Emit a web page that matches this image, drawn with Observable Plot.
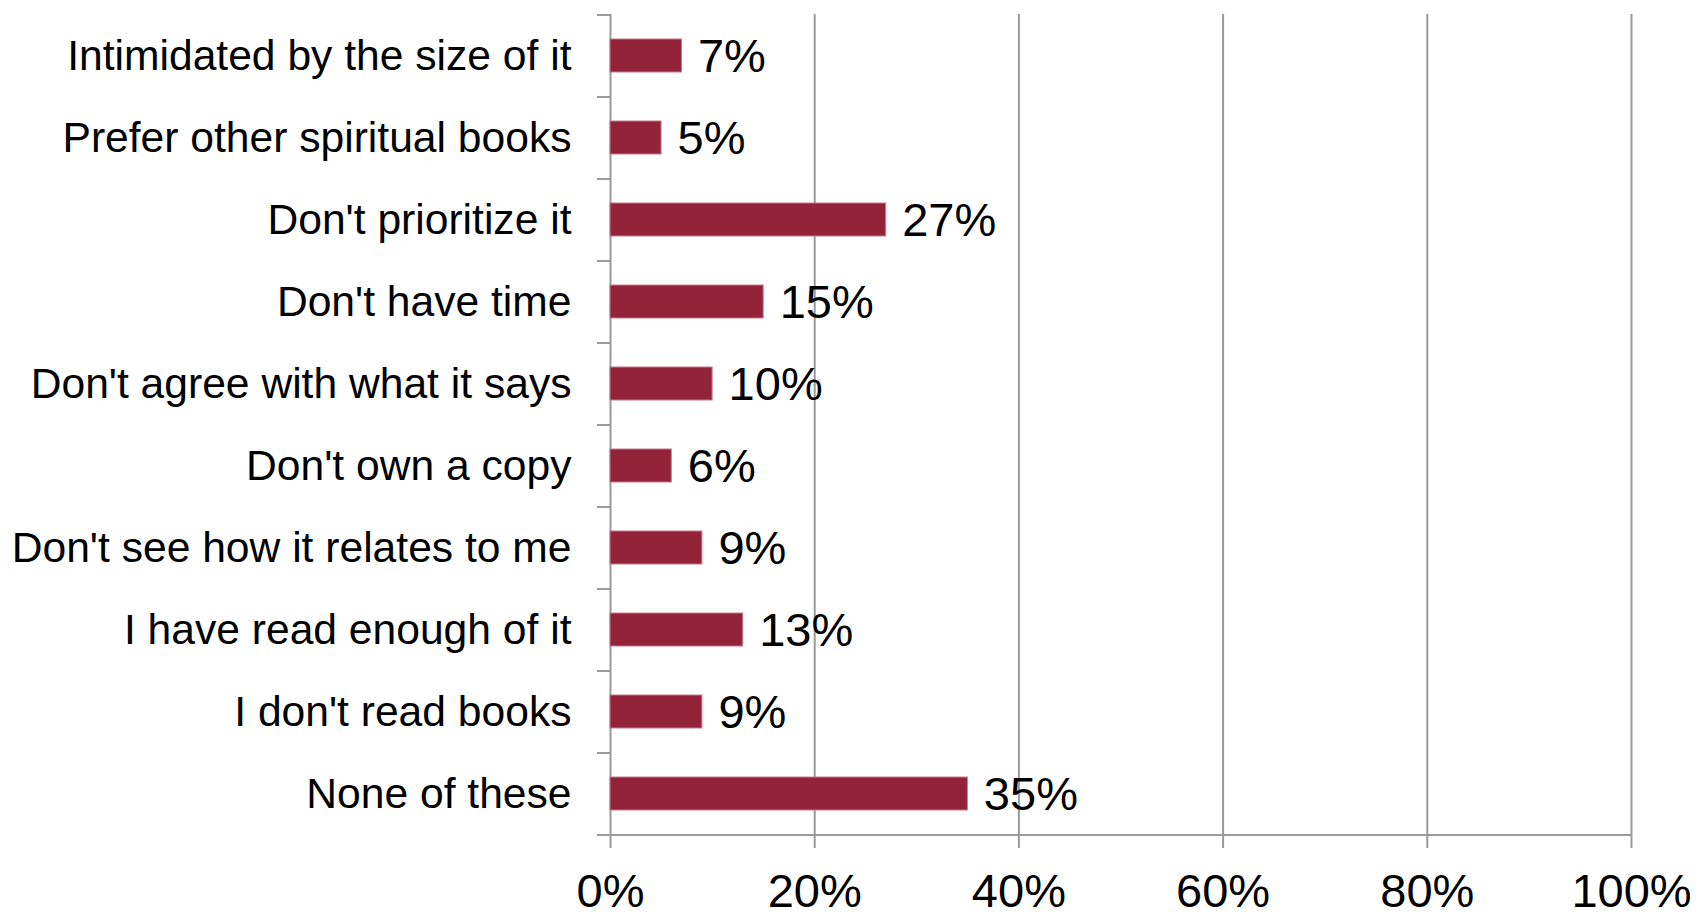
<!DOCTYPE html>
<html>
<head>
<meta charset="utf-8">
<script src="https://cdn.jsdelivr.net/npm/d3@7"></script>
<script src="https://cdn.jsdelivr.net/npm/@observablehq/plot@0.6"></script>
<style>
  html, body { margin: 0; padding: 0; background: #fff; }
  #chart svg { display: block; }
</style>
</head>
<body>
<div id="chart"></div>
<script>
const categories = [
  "Intimidated by the size of it",
  "Prefer other spiritual books",
  "Don't prioritize it",
  "Don't have time",
  "Don't agree with what it says",
  "Don't own a copy",
  "Don't see how it relates to me",
  "I have read enough of it",
  "I don't read books",
  "None of these"
];
const values = [0.07, 0.05, 0.27, 0.15, 0.10, 0.06, 0.09, 0.13, 0.09, 0.35];
const xTicks = [0, 0.2, 0.4, 0.6, 0.8, 1.0];

const data = categories.map((c, i) => ({category: c, value: values[i]}));
const pct = d3.format(".0%");
const axisColor = "#9a9a9a";
const barColor = "#922339";

const chart = Plot.plot({
  width: 1698,
  height: 917,
  marginLeft: 610,
  marginRight: 67,
  marginTop: 14,
  marginBottom: 83,
  style: {fontFamily: "'Liberation Sans', Arial, sans-serif", background: "#fff"},
  x: {domain: [0, 1], ticks: xTicks, tickFormat: pct},
  y: {domain: categories, paddingInner: 0.6, paddingOuter: 0.3, align: 0.5},
  marks: [
    Plot.ruleX(xTicks, {stroke: axisColor, strokeWidth: 2, strokeOpacity: 1}),
    Plot.barX(data, {x: "value", y: "category", fill: barColor, stroke: "#c77a89", strokeWidth: 1}),
    Plot.ruleY([categories[categories.length - 1]], {x1: 0, x2: 1, dy: 41, insetLeft: -13, stroke: axisColor, strokeWidth: 2}),
    Plot.axisX({ticks: xTicks, tickFormat: pct, tickSize: 14, tickPadding: 25, fontSize: 47, stroke: axisColor, strokeWidth: 2, color: "#000", label: null}),
    Plot.axisY({tickSize: 13, tickFormat: () => "", dy: -41, stroke: axisColor, strokeWidth: 2, label: null}),
    Plot.axisY({ticks: [categories[categories.length - 1]], tickSize: 13, tickFormat: () => "", dy: 41, stroke: axisColor, strokeWidth: 2, label: null}),
    Plot.axisY({tickSize: 0, tickPadding: 39, fontSize: 42.6, color: "#000", label: null}),
    Plot.text(data, {x: "value", y: "category", text: d => pct(d.value), textAnchor: "start", dx: 16, dy: 1, fontSize: 47, fill: "#000"})
  ]
});
document.getElementById("chart").appendChild(chart);
</script>
</body>
</html>
